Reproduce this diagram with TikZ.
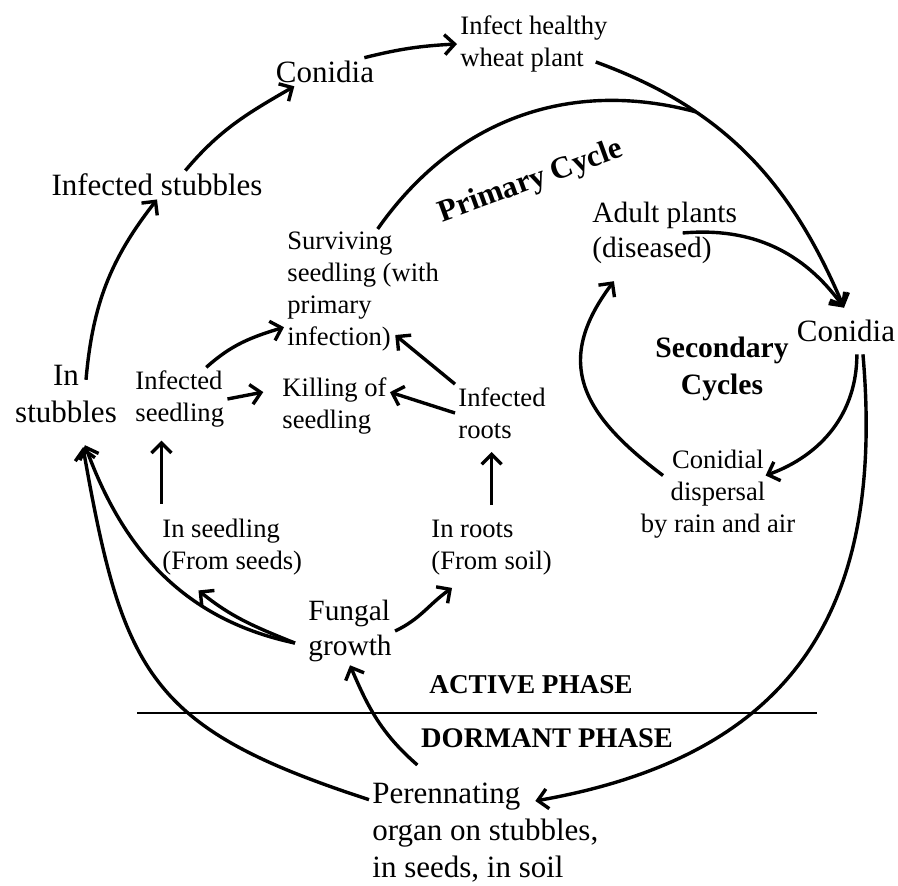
\documentclass[tikz,border=0pt]{standalone}
\usepackage{fontspec}
\setmainfont{Liberation Serif}
\usetikzlibrary{arrows.meta}

\begin{document}
\begin{tikzpicture}[x=0.5pt,y=-0.5pt,
    arr/.style={-{Straight Barb[length=5pt,width=10pt]},line width=1.7pt},
    lbig/.style={font=\fontsize{15.5}{18.5}\selectfont,inner sep=1.5pt,align=left},
    lmid/.style={font=\fontsize{14.7}{17.5}\selectfont,inner sep=1.5pt,align=left},
    lsmall/.style={font=\fontsize{13.3}{16}\selectfont,inner sep=1.5pt,align=left},
    lbold/.style={font=\bfseries\fontsize{14.8}{18.5}\selectfont,inner sep=1.5pt,align=center}]
    \useasboundingbox (0,0) rectangle (898,886);
    % outer cycle
    \node[lbig] (conL) at (325,72) {Conidia};
    \node[lsmall,anchor=west] (infect) at (457,44) {Infect healthy\\wheat plant};
    \node[lbig] (instub) at (157,185) {Infected stubbles};
    \node[lbig,align=center] (inst) at (66,394) {In\\stubbles};
    \node[lbig,inner ysep=6pt] (conR) at (846,331) {Conidia};
    \node[lbig,anchor=west] (per) at (369,833) {Perennating\\organ on stubbles,\\in seeds, in soil};
    % primary cycle
    \node[lsmall,anchor=west] (surv) at (284,292) {Surviving\\seedling (with\\primary\\infection)};
    \node[lsmall,anchor=west] (infseed) at (132,399) {Infected\\seedling};
    \node[lsmall,anchor=west] (kill) at (279,406) {Killing of\\seedling};
    \node[lsmall,anchor=west] (infroots) at (455,413) {Infected\\roots};
    \node[lsmall,anchor=west] (inseed) at (159,547) {In seedling\\(From seeds)};
    \node[lsmall,anchor=west] (inroot) at (428,548) {In roots\\(From soil)};
    \node[lmid,anchor=west] (fung) at (305,631) {Fungal\\growth};
    \node[lbold,font=\bfseries\fontsize{15.5}{18.5}\selectfont,rotate=20] (prim) at (531,182) {Primary Cycle};
    % secondary cycles
    \node[lmid,anchor=west] (adult) at (589,233) {Adult plants\\(diseased)};
    \node[lbold] (sec) at (722,369) {Secondary\\Cycles};
    \node[lsmall,align=center] (disp) at (718,494) {Conidial\\dispersal\\by rain and air};
    % phases
    \node[lbold,font=\bfseries\fontsize{13.6}{16}\selectfont] (act) at (531,685) {ACTIVE PHASE};
    \node[lbold,font=\bfseries\fontsize{14.2}{16}\selectfont] (dorm) at (547,738) {DORMANT PHASE};
    \draw[line width=0.6pt] (137,713) -- (817,713);

    \draw[arr] ([shift={(20,18)}]inst.north) to[out=85,in=232] (instub.south);
    \draw[arr] (instub.27) to[out=50,in=210] (conL.205);
    \draw[arr] (conL.20) to[out=14,in=183] (infect.west);
    \draw[arr] ([shift={(-15,18)}]infect.east) to[out=-20,in=113] coordinate[pos=0.3] (merge) (conR.95);
    \draw[line width=1.7pt] (surv.77) to[out=55,in=165] (merge);
    \draw[arr] ([xshift=9pt]adult.center) to[out=5,in=126] (conR.95);
    \draw[arr] (conR.-65) to[out=-90,in=20] ([shift={(-33,29)}]disp.north east);
    \draw[arr] ([shift={(-55,29)}]disp.north) to[out=143,in=233,looseness=1.3] ([yshift=-7pt]adult.214);
    \draw[arr] (conR.-54) to[out=-85,in=10,looseness=1.2] ([shift={(50,21)}]per.north);
    \draw[arr] (per.164) to[out=162,in=-80,looseness=1.3] ([shift={(17,21)}]inst.south);
    \draw[arr] ([shift={(-68,-15)}]per.north) to[out=139,in=-67] (fung.south);
    \draw[arr] ([xshift=-5pt]fung.195) to[out=168,in=-70] ([shift={(19,19)}]inst.south);
    \draw[arr] ([xshift=-5pt]fung.195) to[out=158,in=-39] ([yshift=-6pt]inseed.223);
    \draw[arr] (fung.east) to[out=25,in=215] ([yshift=-4.5pt]inroot.218);
    \draw[arr,shorten <=6pt,shorten >=5pt] (inroot.north) -- (inroot.north |- infroots.south);
    \draw[arr,shorten <=6pt,shorten >=5pt] (infseed.240 |- inseed.north) -- (infseed.240);
    \draw[arr] (infseed.50) to[out=42,in=197] (surv.204);
    \draw[arr,shorten >=8pt] (infseed.east) -- (kill.163);
    \draw[arr] (infroots.north west) -- ([shift={(-47,-20)}]surv.south east);
    \draw[arr] (infroots.west) -- (kill.14);
  \end{tikzpicture}
\end{document}
